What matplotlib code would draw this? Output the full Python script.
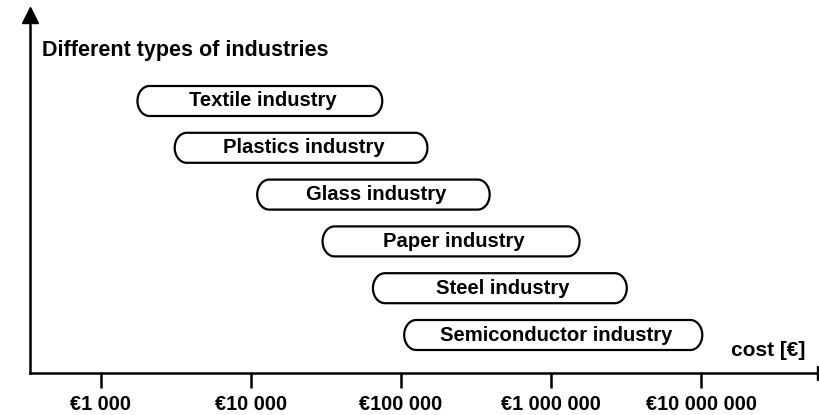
import matplotlib
matplotlib.use('Agg')
import numpy as np
import matplotlib.pyplot as plt
from matplotlib.patches import Polygon
from matplotlib.transforms import IdentityTransform

plt.rcParams['font.family'] = ['Liberation Sans', 'DejaVu Sans']
plt.rcParams['font.weight'] = 'bold'

# data: cost range per industry (EUR), top to bottom
industries = ['Textile industry', 'Plastics industry', 'Glass industry',
              'Paper industry', 'Steel industry', 'Semiconductor industry']
cost_low = [1750, 3100, 11000, 30000, 65000, 105000]
cost_high = [75000, 150000, 390000, 1550000, 3200000, 10200000]
tick_values = [1e3, 1e4, 1e5, 1e6, 1e7]
tick_labels = ['€1 000', '€10 000', '€100 000', '€1 000 000', '€10 000 000']

W, H = 819, 415
fig = plt.figure(figsize=(W / 100, H / 100), dpi=100)
ax = fig.add_axes([30 / W, 42 / H, (824 - 30) / W, (H - 42 - 15.5) / H])

ax.set_xscale('log')
ax.set_xlim(10 ** (3 - 71 / 150), 10 ** (3 + (824 - 101) / 150))
ax_h = H - 42 - 15.5
step = 46.8
ax.set_ylim(-38 / step, (ax_h - 38) / step)

ax.spines['top'].set_visible(False)
ax.spines['right'].set_visible(False)
for s in ['left', 'bottom']:
    ax.spines[s].set_linewidth(1.8)
ax.set_yticks([])
ax.xaxis.set_minor_locator(matplotlib.ticker.NullLocator())
ax.set_xticks(tick_values)
ax.set_xticklabels(tick_labels, fontsize=14.3, fontweight='bold')
ax.tick_params(axis='x', direction='out', length=11, width=1.8, pad=5)

# arrow heads
ax.plot(0, 1, marker='^', color='k', markersize=12, transform=ax.transAxes, clip_on=False)
ax.plot(1, 0, marker='>', color='k', markersize=10, transform=ax.transAxes, clip_on=False)


def stadium(xa, xb, yc, hh=15, rx=12):
    t1 = np.linspace(-np.pi / 2, np.pi / 2, 40)
    t2 = np.linspace(np.pi / 2, 3 * np.pi / 2, 40)
    right = np.column_stack([xb - rx + rx * np.cos(t1), yc + hh * np.sin(t1)])
    left = np.column_stack([xa + rx + rx * np.cos(t2), yc + hh * np.sin(t2)])
    return np.vstack([right, left])


n = len(industries)
for k, name in enumerate(industries):
    row = n - 1 - k
    xa, ya = ax.transData.transform((cost_low[k], row))
    xb, _ = ax.transData.transform((cost_high[k], row))
    box = Polygon(stadium(xa, xb, ya), closed=True,
                  facecolor='white', edgecolor='black', linewidth=1.6,
                  transform=IdentityTransform())
    fig.add_artist(box)
    fig.text((xa + xb) / 2 / W + 3 / W, ya / H, name, ha='center', va='center',
             fontsize=14.6, fontweight='bold')

fig.text(42 / W, (H - 50) / H, 'Different types of industries', ha='left', va='center',
         fontsize=15.5, fontweight='bold')
fig.text(731 / W, (H - 350) / H, 'cost [€]', ha='left', va='center',
         fontsize=15, fontweight='bold')

fig.savefig('out.png', dpi=100)
